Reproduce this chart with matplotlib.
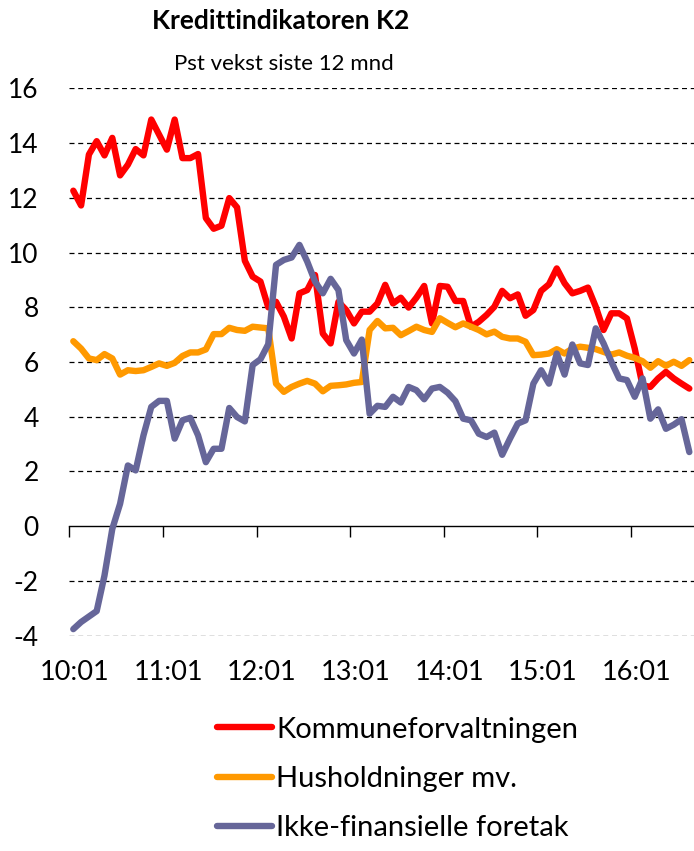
import numpy as np
import matplotlib
matplotlib.use("Agg")
import matplotlib.pyplot as plt

# monthly data, 2010:01 - 2016:08, pst vekst siste 12 mnd
kommune = [12.26, 11.72, 13.58, 14.07, 13.55, 14.19, 12.82, 13.21, 13.78, 13.55,
           14.86, 14.31, 13.76, 14.86, 13.45, 13.45, 13.60, 11.26, 10.87, 10.98,
           11.99, 11.65, 9.70, 9.12, 8.94, 8.00, 8.20, 7.66, 6.86, 8.51,
           8.63, 9.18, 7.04, 6.68, 8.20, 7.90, 7.41, 7.84, 7.84, 8.14,
           8.82, 8.14, 8.35, 7.99, 8.35, 8.78, 7.41, 8.78, 8.75, 8.23,
           8.23, 7.29, 7.47, 7.72, 8.02, 8.60, 8.33, 8.47, 7.69, 7.90,
           8.60, 8.84, 9.42, 8.88, 8.51, 8.60, 8.72, 8.02, 7.17, 7.78,
           7.78, 7.59, 6.49, 5.15, 5.09, 5.40, 5.64, 5.40, 5.21, 5.03]
husholdninger = [6.76, 6.49, 6.13, 6.07, 6.29, 6.13, 5.54, 5.70, 5.67, 5.70,
                 5.82, 5.95, 5.86, 5.97, 6.22, 6.35, 6.35, 6.46, 7.02, 7.02,
                 7.25, 7.17, 7.14, 7.29, 7.26, 7.23, 5.21, 4.91, 5.09, 5.21,
                 5.31, 5.21, 4.93, 5.13, 5.15, 5.18, 5.24, 5.27, 7.17, 7.50,
                 7.23, 7.25, 6.98, 7.13, 7.29, 7.17, 7.10, 7.60, 7.43, 7.27,
                 7.41, 7.29, 7.17, 7.01, 7.11, 6.92, 6.86, 6.86, 6.74, 6.25,
                 6.27, 6.31, 6.47, 6.31, 6.49, 6.56, 6.52, 6.47, 6.37, 6.27,
                 6.35, 6.23, 6.15, 6.03, 5.79, 6.03, 5.86, 6.01, 5.86, 6.07]
foretak = [-3.76, -3.50, -3.30, -3.10, -1.80, -0.10, 0.82, 2.22, 2.04, 3.32,
           4.36, 4.58, 4.58, 3.20, 3.87, 3.96, 3.32, 2.34, 2.83, 2.83,
           4.32, 3.99, 3.83, 5.89, 6.10, 6.65, 9.55, 9.73, 9.82, 10.28,
           9.67, 8.94, 8.51, 9.04, 8.63, 6.80, 6.31, 6.82, 4.11, 4.40,
           4.36, 4.73, 4.52, 5.09, 4.97, 4.64, 5.03, 5.09, 4.88, 4.57,
           3.93, 3.87, 3.38, 3.26, 3.42, 2.61, 3.20, 3.75, 3.87, 5.21,
           5.70, 5.21, 6.31, 5.54, 6.64, 5.95, 5.89, 7.23, 6.68, 6.01,
           5.40, 5.34, 4.73, 5.40, 3.93, 4.27, 3.56, 3.71, 3.91, 2.71]

labels = ["Kommuneforvaltningen", "Husholdninger mv.", "Ikke-finansielle foretak"]
colors = ["#FF0000", "#FF9900", "#666699"]
year_labels = ["10:01", "11:01", "12:01", "13:01", "14:01", "15:01", "16:01"]
y_ticks = [-4, -2, 0, 2, 4, 6, 8, 10, 12, 14, 16]

plt.rcParams['font.family'] = ['Lato', 'DejaVu Sans']

fig = plt.figure(figsize=(6.94, 8.51), dpi=100)
ax = fig.add_axes([0.1, 0.253, 0.9, 0.6432])

x = np.arange(len(kommune))
for s, lab, c in zip([kommune, husholdninger, foretak], labels, colors):
    ax.plot(x, s, color=c, lw=4.6, label=lab, zorder=3,
            solid_capstyle='round', solid_joinstyle='round')

ax.set_xlim(-0.5, 79.6)
ax.set_ylim(-4, 16)

# dashed gridlines
for v in y_ticks:
    if v != 0:
        ax.axhline(v, color='black', lw=0.9, ls=(0, (4, 3)), zorder=1)

ax.set_yticks(y_ticks)
ax.set_yticklabels([str(v) for v in y_ticks])
ax.tick_params(axis='y', length=0, pad=22, labelsize=19)

# axis line at zero with tick marks, labels at the bottom
for sp in ['left', 'right', 'top']:
    ax.spines[sp].set_visible(False)
ax.spines['bottom'].set_position(('data', 0))
ax.spines['bottom'].set_linewidth(1.0)
ax.set_xticks([12 * k - 0.5 for k in range(7)])
ax.set_xticklabels([])
ax.tick_params(axis='x', direction='out', length=8, width=1.0)
for k, lab in enumerate(year_labels):
    ax.text(12 * k + 0.2, -0.045, lab, transform=ax.get_xaxis_transform(),
            ha='center', va='top', fontsize=19.5)

fig.text(0.404, 0.975, "Kredittindikatoren K2", ha='center', va='center',
         fontsize=19, fontweight='bold')
fig.text(0.409, 0.925, "Pst vekst siste 12 mnd", ha='center', va='center',
         fontsize=16)

fig.legend(loc='upper left', bbox_to_anchor=(0.313, 0.158), frameon=False,
           fontsize=21, handlelength=1.87, handletextpad=0.15, labelspacing=0.8,
           borderaxespad=0, borderpad=0)

fig.savefig("out.png", dpi=100)
